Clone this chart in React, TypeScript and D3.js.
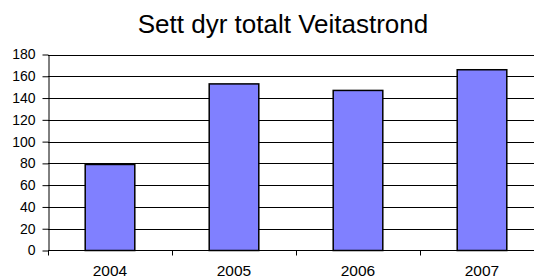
import React, { useRef, useEffect } from 'react';
import * as d3 from 'd3';

const years = ['2004', '2005', '2006', '2007'];
const counts = [79, 153, 147, 166];
const yTicks = [0, 20, 40, 60, 80, 100, 120, 140, 160, 180];
const title = 'Sett dyr totalt Veitastrond';

const App = () => {
  const svgRef = useRef<SVGSVGElement>(null);

  useEffect(() => {
    const svg = d3.select(svgRef.current);
    svg.selectAll('*').remove();
    const font = 'Arial, "Liberation Sans", sans-serif';

    const x = d3.scaleBand().domain(years).range([48, 544]).paddingInner(0.6).paddingOuter(0.3);
    const y = d3.scaleLinear().domain([0, 180]).range([250.5, 54.5]);

    svg.append('text')
      .attr('x', 283).attr('y', 33)
      .attr('text-anchor', 'middle')
      .attr('font-family', font)
      .attr('font-size', 26)
      .text(title);

    // grid
    svg.append('g')
      .selectAll('line')
      .data(yTicks.slice(1))
      .join('line')
        .attr('x1', 48).attr('x2', 544)
        .attr('y1', d => Math.round(y(d)) + 0.5)
        .attr('y2', d => Math.round(y(d)) + 0.5)
        .attr('stroke', '#000');

    // bars
    svg.append('g')
      .selectAll('rect')
      .data(counts)
      .join('rect')
        .attr('x', (d, i) => x(years[i]))
        .attr('y', d => y(d))
        .attr('width', x.bandwidth())
        .attr('height', d => y(0) - y(d))
        .attr('fill', '#8080ff')
        .attr('stroke', '#000')
        .attr('stroke-width', 1.5);

    // y axis
    const yAxis = svg.append('g')
      .attr('transform', 'translate(48.5,0)')
      .call(d3.axisLeft(y).tickValues(yTicks).tickSize(6).tickSizeOuter(0));
    yAxis.select('.domain').attr('stroke', '#000');
    yAxis.selectAll('.tick line').attr('stroke', '#000');
    yAxis.selectAll('text')
      .attr('font-family', font).attr('font-size', 14).attr('fill', '#000').attr('x', -13);

    // x axis
    const bounds = d3.range(years.length + 1).map(i => 48 + i * x.step());
    svg.append('line')
      .attr('x1', 48).attr('x2', 544)
      .attr('y1', 250.5).attr('y2', 250.5)
      .attr('stroke', '#000');
    svg.append('g')
      .selectAll('line')
      .data(bounds)
      .join('line')
        .attr('x1', d => Math.round(d) + 0.5).attr('x2', d => Math.round(d) + 0.5)
        .attr('y1', 250.5).attr('y2', 255.5)
        .attr('stroke', '#000');
    svg.append('g')
      .selectAll('text')
      .data(years)
      .join('text')
        .attr('x', d => x(d) + x.bandwidth() / 2)
        .attr('y', 276)
        .attr('text-anchor', 'middle')
        .attr('font-family', font)
        .attr('font-size', 15.5)
        .text(d => d);
  }, []);

  return (
    <svg ref={svgRef} width={534} height={278}
      style={{ position: 'absolute', left: 0, top: 0, background: '#fff', overflow: 'hidden' }} />
  );
};

export default App;
